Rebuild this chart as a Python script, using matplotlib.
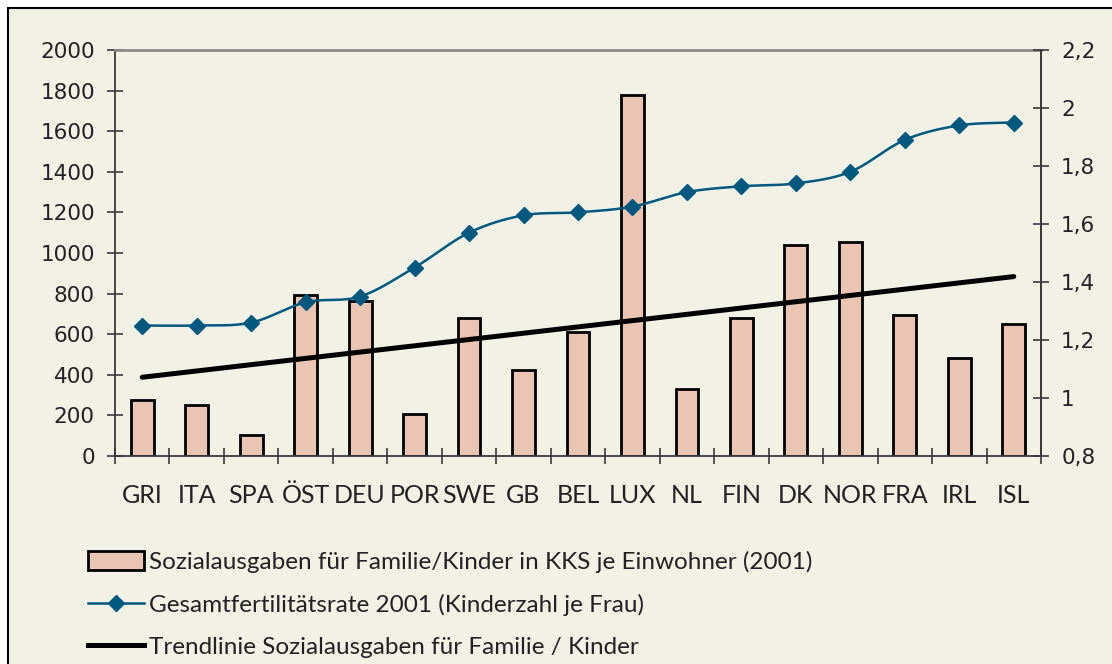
import numpy as np
import matplotlib
matplotlib.use('Agg')
import matplotlib.pyplot as plt
from matplotlib.patches import Patch, Rectangle
from matplotlib.lines import Line2D
from matplotlib.ticker import FixedLocator, FuncFormatter

# data
countries = ['GRI', 'ITA', 'SPA', 'ÖST', 'DEU', 'POR', 'SWE', 'GB', 'BEL',
             'LUX', 'NL', 'FIN', 'DK', 'NOR', 'FRA', 'IRL', 'ISL']
spending = [275, 250, 103, 793, 763, 206, 680, 424, 613,
            1776, 329, 681, 1038, 1052, 693, 485, 649]
fertility = [1.25, 1.25, 1.26, 1.33, 1.35, 1.45, 1.57, 1.63, 1.64,
             1.66, 1.71, 1.73, 1.74, 1.78, 1.89, 1.94, 1.95]

label_bars = 'Sozialausgaben für Familie/Kinder in KKS je Einwohner (2001)'
label_fert = 'Gesamtfertilitätsrate 2001 (Kinderzahl je Frau)'
label_trend = 'Trendlinie Sozialausgaben für Familie / Kinder'

BG = '#F1F1E5'
BAR = '#EBC5B4'
BLUE = '#00587F'
AXC = '#3A3A3A'
NARROW = ['Lato', 'DejaVu Sans']


def smooth(xs, ys, n=20):
    '''Excel-like smoothed line (Catmull-Rom through the points).'''
    xs, ys = np.asarray(xs, float), np.asarray(ys, float)
    px = np.concatenate([[xs[0]], xs, [xs[-1]]])
    py = np.concatenate([[ys[0]], ys, [ys[-1]]])
    outx, outy = [], []
    t = np.linspace(0, 1, n)
    for i in range(1, len(px) - 2):
        for p, out in ((px, outx), (py, outy)):
            p0, p1, p2, p3 = p[i-1], p[i], p[i+1], p[i+2]
            c1 = p1 + (p2 - p0) / 6
            c2 = p2 - (p3 - p1) / 6
            out.extend((1-t)**3*p1 + 3*(1-t)**2*t*c1 + 3*(1-t)*t**2*c2 + t**3*p2)
    return np.array(outx), np.array(outy)


def commaFmt(v, pos):
    s = ('%.1f' % v).rstrip('0').rstrip('.')
    return s.replace('.', ',')


fig = plt.figure(figsize=(11.12, 6.64), dpi=100, facecolor='white')
fig.patches.append(Rectangle((8/1112, -0.1), 1.2, 1 - 8/664 + 0.1,
                             transform=fig.transFigure, facecolor=BG,
                             edgecolor='black', linewidth=1.5, zorder=-10))

ax = fig.add_axes([115/1112, 1 - 456/664, 926/1112, 406/664])
ax.set_facecolor('none')
x = np.arange(len(countries))

ax.bar(x, spending, width=0.42, color=BAR, edgecolor='black', linewidth=2,
       zorder=2)
k, b = np.polyfit(x, spending, 1)
ax.plot([x[0], x[-1]], [k*x[0] + b, k*x[-1] + b], color='black', lw=3.6,
        solid_capstyle='round', zorder=3)

ax.set_xlim(-0.5, len(countries) - 0.5)
ax.set_ylim(0, 2000)
ax.set_yticks(np.arange(0, 2001, 200))
ax.set_xticks(x)
ax.set_xticklabels(countries, family=NARROW, fontsize=18)
ax.xaxis.set_minor_locator(FixedLocator(np.arange(-0.5, len(countries), 1)))
ax.tick_params(axis='x', which='major', length=0, pad=20, colors='#222222')
ax.tick_params(axis='x', which='minor', direction='inout', length=11,
               width=1.2, color=AXC)
ax.tick_params(axis='y', direction='inout', length=11, width=1.2, color=AXC,
               labelsize=15.5, pad=9, labelcolor='#222222')

for s in ('left', 'bottom', 'right'):
    ax.spines[s].set_color(AXC)
    ax.spines[s].set_linewidth(1.3)
ax.spines['top'].set_color('#8A8A8A')
ax.spines['top'].set_linewidth(2)

ax2 = ax.twinx()
ax2.set_ylim(0.8, 2.2)
ax2.set_yticks(np.arange(0.8, 2.21, 0.2))
ax2.yaxis.set_major_formatter(FuncFormatter(commaFmt))
ax2.tick_params(axis='y', direction='inout', length=11, width=1.2, color=AXC,
                labelsize=15.5, pad=9, labelcolor='#222222')
for s in ax2.spines.values():
    s.set_visible(False)
ax2.spines['right'].set_visible(True)
ax2.spines['right'].set_color(AXC)
ax2.spines['right'].set_linewidth(1.3)

sx, sy = smooth(x, fertility)
ax2.plot(sx, sy, color=BLUE, lw=1.8, zorder=3)
ax2.plot(x, fertility, linestyle='none', marker='D', markersize=8,
         color=BLUE, zorder=4)

handles = [
    Patch(facecolor=BAR, edgecolor='black', linewidth=2),
    Line2D([], [], color=BLUE, lw=1.8, marker='D', markersize=8),
    Line2D([], [], color='black', lw=3.6),
]
fig.legend(handles, [label_bars, label_fert, label_trend],
           loc='upper left', bbox_to_anchor=(88/1112, 1 - 551/664),
           frameon=False, borderpad=0, borderaxespad=0,
           prop={'family': NARROW, 'size': 17.5},
           handlelength=2.3, handleheight=0.8, handletextpad=0.2,
           labelspacing=0.85, labelcolor='#222222')

fig.savefig('out.png', dpi=100, facecolor=fig.get_facecolor())
